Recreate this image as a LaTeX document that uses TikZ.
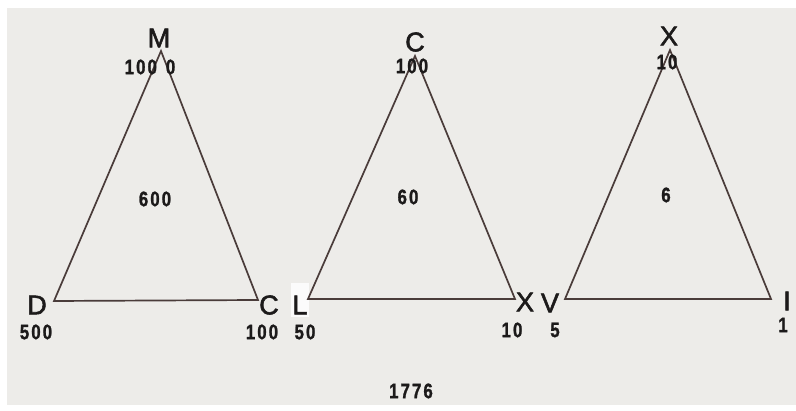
\documentclass[tikz,border=0pt]{standalone}
\usepackage{fontspec}
\setmainfont{Liberation Sans}
\newfontfamily\letfont{Liberation Sans}[FakeBold=2]
\newfontfamily\digfont{Liberation Sans}[FakeStretch=0.8,LetterSpace=10,FakeBold=1.2]
\definecolor{paper}{HTML}{EDECE9}
\definecolor{ink}{HTML}{4A3C3A}
\definecolor{txt}{HTML}{1C1A1A}
\begin{document}
\begin{tikzpicture}[x=1pt,y=-1pt,
  edge/.style={draw=ink,line width=1.7pt,line join=miter},
  letter/.style={inner sep=0pt,text=txt,font=\letfont\fontsize{27}{27}\selectfont},
  num/.style={inner sep=0pt,text=txt,font=\digfont\bfseries\fontsize{21}{21}\selectfont},
  midnum/.style={inner sep=0pt,text=txt,font=\digfont\bfseries\fontsize{21}{21}\selectfont}]
\useasboundingbox (0,0) rectangle (796,411);
\fill[white] (0,0) rectangle (796,411);
\fill[paper] (7,8) rectangle (796,405);
% whiteout patch behind L
\fill[white!80!paper] (291,283) rectangle (309,317);
% triangle 1
\coordinate (t1) at (161,51);
\coordinate (l1) at (54,301);
\coordinate (r1) at (258,300);
\draw[edge] (t1) -- (l1) -- (r1) -- cycle;
% triangle 2
\coordinate (t2) at (415,56);
\coordinate (l2) at (308,299);
\coordinate (r2) at (515,299);
\draw[edge] (t2) -- (l2) -- (r2) -- cycle;
% triangle 3
\coordinate (t3) at (670,50);
\coordinate (l3) at (565,299);
\coordinate (r3) at (771,299);
\draw[edge] (t3) -- (l3) -- (r3) -- cycle;
% letters
\node[letter] (M) at (159,38) {M};
\node[letter] (D) at (37,305) {D};
\node[letter] (C1) at (269,305) {C};
\node[letter] (C2) at (415,42) {C};
\node[letter] (L) at (300,305) {L};
\node[letter] (X1) at (525,302) {X};
\node[letter] (X2) at (669,36) {X};
\node[letter] (V) at (550,303) {V};
\node[letter] (I) at (787,301) {I};
% numbers
\node[num] (n1000) at (150,67) {100\hspace{9pt}0};
\node[num] (n500) at (36,332) {500};
\node[num] (n100a) at (262,332) {100};
\node[num] (n100b) at (412,66) {100};
\node[num] (n50) at (305,332) {50};
\node[num] (n10a) at (512,330) {10};
\node[num] (n10b) at (667,62) {10};
\node[num] (n5) at (555,330) {5};
\node[num] (n1) at (783,325) {1};
\node[midnum] (n600) at (155,199) {600};
\node[midnum] (n60) at (408,197) {60};
\node[midnum] (n6) at (666,195) {6};
\node[midnum] (n1776) at (411,391) {1776};
\end{tikzpicture}
\end{document}
